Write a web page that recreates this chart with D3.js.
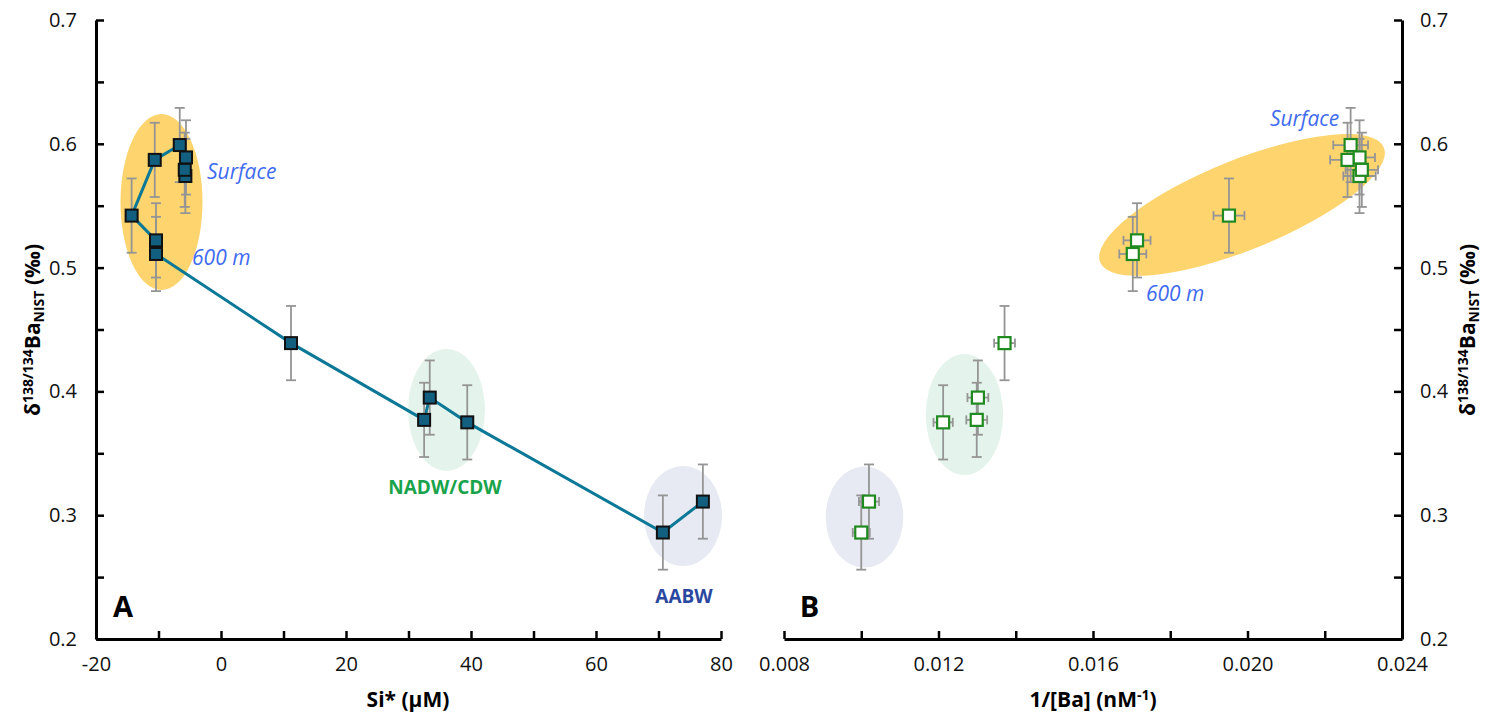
<!DOCTYPE html>
<html><head><meta charset="utf-8">
<script src="https://cdn.jsdelivr.net/npm/d3@7"></script>
<style>
html,body{margin:0;padding:0;background:#fff;}
svg{display:block;}
text{font-family:"Open Sans","Noto Sans",sans-serif;}
</style></head>
<body>
<svg id="chart" width="1486" height="712"></svg>
<script>
// ---- data (sample order = depth order) ----
const siStar   = [-5.7, -5.8, -5.6, -6.6, -10.6, -14.3, -10.4, -10.4, 11.2, 32.5, 33.4, 39.4, 70.7, 77.1];
const delta    = [0.574, 0.579, 0.589, 0.599, 0.587, 0.542, 0.522, 0.511, 0.439, 0.377, 0.395, 0.375, 0.286, 0.311];
const deltaErr = [0.03, 0.03, 0.03, 0.03, 0.03, 0.03, 0.03, 0.03, 0.03, 0.03, 0.03, 0.03, 0.03, 0.03];
const invBa    = [0.02290, 0.02296, 0.02290, 0.02267, 0.02259, 0.01952, 0.01714, 0.01703, 0.01371, 0.01299, 0.01302, 0.01212, 0.01000, 0.01020];
const invBaErr = [0.00042, 0.00042, 0.00040, 0.00045, 0.00045, 0.00040, 0.00035, 0.00035, 0.00027, 0.00027, 0.00027, 0.00025, 0.00022, 0.00026];

const yTicks  = [0.2, 0.25, 0.3, 0.35, 0.4, 0.45, 0.5, 0.55, 0.6, 0.65, 0.7];
const xTicksA = [-20, -10, 0, 10, 20, 30, 40, 50, 60, 70, 80];
const xTicksB = [0.008, 0.010, 0.012, 0.014, 0.016, 0.018, 0.020, 0.022, 0.024];

// annotation shapes: [panel, cx, cy, rx(px), ry(px), angle, colour]
const ellipses = [
  ["A", -9.52, 0.553, 41, 88, 0, "#fdd46e"],
  ["A", 36.08, 0.385, 38.5, 61, 0, "#e4f4ec"],
  ["A", 73.92, 0.2994, 39, 50, 0, "#e7e9f3"],
  ["B", 0.019858, 0.5506, 153, 45, -22, "#fdd46e"],
  ["B", 0.012673, 0.3813, 38.7, 60.5, 0, "#e4f4ec"],
  ["B", 0.010084, 0.2985, 38.8, 50.5, 0, "#e7e9f3"]
];
// labels: [panel, x, y, text, anchor, style]
const labels = [
  ["A", -2.24, 0.578, "Surface", "start", "water"],
  ["A", -4.64, 0.5086, "600 m", "start", "water"],
  ["A", 35.84, 0.3228, "NADW/CDW", "middle", "nadw"],
  ["A", 74.08, 0.2347, "AABW", "middle", "aabw"],
  ["B", 0.02058, 0.6208, "Surface", "start", "water"],
  ["B", 0.01737, 0.4795, "600 m", "start", "water"],
  ["A", -17.28, 0.2258, "A", "start", "panel"],
  ["B", 0.00841, 0.2258, "B", "start", "panel"]
];

const svg = d3.select("#chart");
const y  = d3.scaleLinear([0.2, 0.7], [639, 20]);
const xA = d3.scaleLinear([-20, 80], [96, 721]);
const xB = d3.scaleLinear([0.008, 0.024], [784, 1402]);
const xs = {A: xA, B: xB};

// ellipses
svg.append("g").selectAll("ellipse").data(ellipses).join("ellipse")
  .attr("transform", d => `translate(${xs[d[0]](d[1])},${y(d[2])}) rotate(${d[5]})`)
  .attr("rx", d => d[3]).attr("ry", d => d[4]).attr("fill", d => d[6]);

const pts = d3.range(siStar.length).map(i => ({s: siStar[i], d: delta[i], de: deltaErr[i], b: invBa[i], be: invBaErr[i]}));

// panel A line
svg.append("path").datum(pts)
  .attr("d", d3.line().x(p => xA(p.s)).y(p => y(p.d)))
  .attr("fill", "none").attr("stroke", "#0a7896").attr("stroke-width", 3);

const errCol = "#959595";
function vErr(g, xf) {
  const e = g.append("g").attr("stroke", errCol).attr("stroke-width", 1.8).attr("fill", "none");
  pts.forEach(p => {
    const x = xf(p), y0 = y(p.d - p.de), y1 = y(p.d + p.de);
    e.append("line").attr("x1", x).attr("x2", x).attr("y1", y0).attr("y2", y1);
    e.append("line").attr("x1", x - 5).attr("x2", x + 5).attr("y1", y0).attr("y2", y0);
    e.append("line").attr("x1", x - 5).attr("x2", x + 5).attr("y1", y1).attr("y2", y1);
  });
}
vErr(svg, p => xA(p.s));
vErr(svg, p => xB(p.b));
// horizontal error bars panel B
const he = svg.append("g").attr("stroke", errCol).attr("stroke-width", 1.8);
pts.forEach(p => {
  const yy = y(p.d), x0 = xB(p.b - p.be), x1 = xB(p.b + p.be);
  he.append("line").attr("x1", x0).attr("x2", x1).attr("y1", yy).attr("y2", yy);
  he.append("line").attr("x1", x0).attr("x2", x0).attr("y1", yy - 4.5).attr("y2", yy + 4.5);
  he.append("line").attr("x1", x1).attr("x2", x1).attr("y1", yy - 4.5).attr("y2", yy + 4.5);
});

// markers
svg.append("g").selectAll("rect").data(pts).join("rect")
  .attr("x", p => xA(p.s) - 6).attr("y", p => y(p.d) - 6)
  .attr("width", 12).attr("height", 12)
  .attr("fill", "#135f80").attr("stroke", "#111").attr("stroke-width", 2);
svg.append("g").selectAll("rect").data(pts).join("rect")
  .attr("x", p => xB(p.b) - 6).attr("y", p => y(p.d) - 6)
  .attr("width", 12).attr("height", 12)
  .attr("fill", "#fff").attr("stroke", "#1f8a1f").attr("stroke-width", 2.2);

// axes
function styleAxis(g) {
  g.select(".domain").attr("stroke", "#000").attr("stroke-width", 3);
  g.selectAll(".tick line").attr("stroke", "#000").attr("stroke-width", 2.5);
  g.selectAll(".tick text").attr("font-size", 20).attr("fill", "#111")
    .attr("font-family", '"Open Sans", sans-serif');
}
const yFmt = v => (Math.round(v * 100) % 10 === 0) ? d3.format(".1f")(v) : "";
svg.append("g").attr("transform", "translate(96,0)")
  .call(d3.axisLeft(y).tickValues(yTicks).tickFormat(yFmt).tickSizeInner(-8).tickSizeOuter(0).tickPadding(19))
  .call(styleAxis);
svg.append("g").attr("transform", "translate(1402,0)")
  .call(d3.axisRight(y).tickValues(yTicks).tickFormat(yFmt).tickSizeInner(-8).tickSizeOuter(0).tickPadding(18))
  .call(styleAxis);
svg.append("g").attr("transform", "translate(0,639)")
  .call(d3.axisBottom(xA).tickValues(xTicksA).tickFormat(v => v % 20 === 0 ? v : "").tickSizeInner(-8).tickSizeOuter(0).tickPadding(18))
  .call(styleAxis);
svg.append("g").attr("transform", "translate(0,639)")
  .call(d3.axisBottom(xB).tickValues(xTicksB).tickFormat(v => Math.round(v * 1000) % 4 === 0 ? d3.format(".3f")(v) : "").tickSizeInner(-8).tickSizeOuter(0).tickPadding(18))
  .call(styleAxis);

// annotation labels
const lstyle = {
  water: {size: 21, weight: 400, italic: true, fill: "#3f6bef"},
  nadw:  {size: 19, weight: 700, italic: false, fill: "#19a34a"},
  aabw:  {size: 19, weight: 700, italic: false, fill: "#2a48a0"},
  panel: {size: 29, weight: 700, italic: false, fill: "#000"}
};
svg.append("g").selectAll("text").data(labels).join("text")
  .attr("x", d => xs[d[0]](d[1])).attr("y", d => y(d[2])).attr("dy", "0.36em")
  .attr("text-anchor", d => d[4])
  .attr("font-size", d => lstyle[d[5]].size)
  .attr("font-weight", d => lstyle[d[5]].weight)
  .attr("font-style", d => lstyle[d[5]].italic ? "italic" : "normal")
  .attr("fill", d => lstyle[d[5]].fill)
  .text(d => d[3]);

// axis titles
svg.append("text").attr("x", 408).attr("y", 700).attr("dy", "0.35em").attr("text-anchor", "middle")
  .attr("font-size", 21).attr("font-weight", 700).text("Si* (μM)");
const tB = svg.append("text").attr("x", 1093).attr("y", 700).attr("dy", "0.35em").attr("text-anchor", "middle")
  .attr("font-size", 21).attr("font-weight", 700);
tB.append("tspan").text("1/[Ba] (nM");
tB.append("tspan").attr("font-size", 14).attr("dy", "-7").text("-1");
tB.append("tspan").attr("dy", "7").text(")");

function yTitle(cx) {
  const t = svg.append("text").attr("transform", `translate(${cx},330) rotate(-90)`)
    .attr("text-anchor", "middle").attr("dy", "0.35em").attr("font-size", 21).attr("font-weight", 700);
  t.append("tspan").text("δ");
  t.append("tspan").attr("font-size", 14).attr("dy", "-7").text("138/134");
  t.append("tspan").attr("dy", "7").text("Ba");
  t.append("tspan").attr("font-size", 14).attr("dy", "4").text("NIST");
  t.append("tspan").attr("dy", "-4").text(" (‰)");
}
yTitle(33);
yTitle(1468);
</script>
</body></html>
